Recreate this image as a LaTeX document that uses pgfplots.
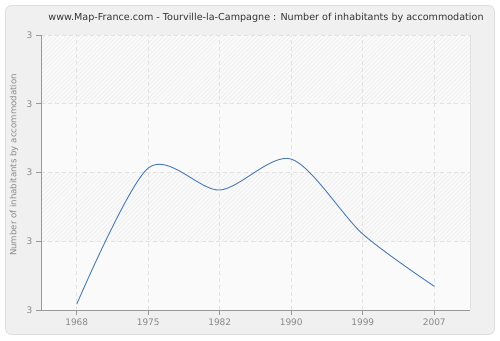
\documentclass[border=0pt]{standalone}
\usepackage{fontspec}
\setmainfont{DejaVu Sans}
\usepackage{pgfplots}
\pgfplotsset{compat=1.18}
\usetikzlibrary{patterns.meta}
\definecolor{bgout}{HTML}{F0F0F0}
\definecolor{framec}{HTML}{DDDDDD}
\definecolor{plotbg}{HTML}{FAFAFA}
\definecolor{hatch}{HTML}{EBEBEB}
\definecolor{axisc}{HTML}{999999}
\definecolor{gridc}{HTML}{E2E2E2}
\definecolor{tickc}{HTML}{888888}
\definecolor{titlec}{HTML}{333333}
\definecolor{linec}{HTML}{4A7AB4}
\begin{document}
\begin{tikzpicture}[x=1pt,y=1pt]
\useasboundingbox (0,0) rectangle (500,340);
\fill[white] (0,0) rectangle (500,340);
\filldraw[fill=bgout, draw=framec, line width=0.8pt, rounded corners=6pt] (5.5,5.5) rectangle (494.5,334.5);
\fill[plotbg] (41,30) rectangle (470,305);
\fill[pattern={Lines[angle=45,distance=3pt,line width=0.5pt]}, pattern color=hatch] (41,236.25) rectangle (470,305);
\fill[pattern={Lines[angle=45,distance=3pt,line width=0.5pt]}, pattern color=hatch] (41,98.5) rectangle (470,167.25);
\draw[gridc, line width=0.6pt] (470,30) -- (470,305);
\begin{axis}[
  at={(41pt,30pt)}, anchor=south west,
  scale only axis, width=429pt, height=275pt,
  xmin=-0.5, xmax=5.5, ymin=2.6, ymax=3.4,
  xtick={0,1,2,3,4,5},
  xticklabels={1968,1975,1982,1990,1999,2007},
  ytick={2.6,2.8,3.0,3.2,3.4},
  yticklabels={3,3,3,3,3},
  axis x line*=bottom, axis y line*=left,
  axis line style={color=axisc, line width=0.8pt},
  tick style={color=axisc, line width=0.8pt},
  major tick length=5pt,
  xtick align=outside, ytick align=outside,
  grid=major,
  major grid style={color=gridc, line width=0.6pt, dash pattern=on 4pt off 3pt},
  ticklabel style={font=\fontsize{9}{10}\selectfont, text=tickc},
  /pgf/number format/assume math mode=true,
]
\addplot[smooth, color=linec, line width=0.9pt] coordinates {
  (0,2.617) (1,3.013) (2,2.949) (3,3.039) (4,2.821) (5,2.669)
};
\end{axis}
\node[font=\fontsize{9.6}{11}\selectfont, text=titlec] at (266,322) {www.Map-France.com - Tourville-la-Campagne : Number of inhabitants by accommodation};
\node[rotate=90, font=\fontsize{8.6}{10}\selectfont, text=tickc] at (14,175) {Number of inhabitants by accommodation};
\end{tikzpicture}
\end{document}
